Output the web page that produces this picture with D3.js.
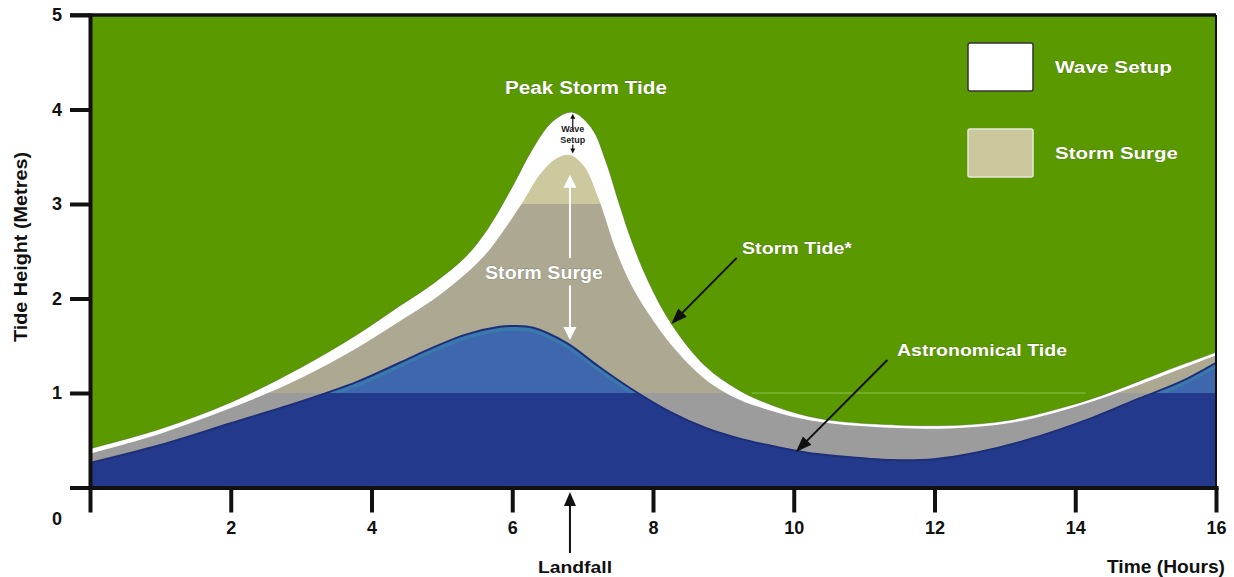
<!DOCTYPE html>
<html>
<head>
<meta charset="utf-8">
<script src="https://cdn.jsdelivr.net/npm/d3@7"></script>
<style>
  html, body { margin: 0; padding: 0; background: #ffffff; }
  svg { display: block; }
  text { font-family: "Liberation Sans", Arial, Helvetica, sans-serif; font-weight: bold; }
</style>
</head>
<body>
<svg id="chart" width="1234" height="577"></svg>
<script>
// ---------------- data ----------------
const xTicks = [0, 2, 4, 6, 8, 10, 12, 14, 16];
const yTicks = [0, 1, 2, 3, 4, 5];

// Storm tide (top of wave setup), [hours, metres]
const stormTide = [[0,0.41],[1,0.62],[2,0.90],[3,1.27],[3.8,1.62],[4.4,1.92],[4.9,2.17],
  [5.35,2.45],[5.6,2.68],[5.82,2.94],[6.05,3.25],[6.28,3.57],[6.57,3.87],[6.85,3.97],[7.13,3.80],
  [7.33,3.45],[7.52,3.0],[7.7,2.6],[7.94,2.17],[8.27,1.72],[8.75,1.28],[9.22,1.03],[9.69,0.87],
  [10.17,0.76],[10.64,0.70],[11.5,0.66],[12.2,0.655],[12.8,0.685],[13.3,0.745],[13.8,0.84],
  [14.4,0.98],[15.2,1.21],[16,1.43]];

// Storm surge top (tide + surge), [hours, metres]
const stormSurge = [[0,0.36],[1,0.57],[2,0.84],[3,1.16],[3.8,1.48],[4.4,1.76],[4.9,2.00],
  [5.35,2.27],[5.6,2.45],[5.82,2.66],[6.14,3.01],[6.4,3.32],[6.62,3.48],[6.81,3.52],[7.02,3.40],
  [7.23,3.05],[7.47,2.52],[7.7,2.13],[7.99,1.78],[8.27,1.50],[8.75,1.14],[9.22,0.93],[9.69,0.81],
  [10.17,0.72],[10.64,0.67],[11.5,0.63],[12.2,0.625],[12.8,0.655],[13.3,0.715],[13.8,0.81],
  [14.4,0.95],[15.2,1.17],[16,1.40]];

// Astronomical tide, [hours, metres]
const astroTide = [[0,0.26],[1,0.45],[2,0.68],[3,0.91],[3.8,1.12],[4.4,1.32],
  [4.87,1.48],[5.35,1.62],[5.82,1.70],[6.05,1.71],[6.3,1.69],[6.77,1.53],[7.23,1.28],[7.7,1.04],
  [8.27,0.79],[8.75,0.63],[9.22,0.52],[9.69,0.44],[10.17,0.37],[10.64,0.33],[11.4,0.29],
  [12.0,0.30],[12.6,0.37],[13.3,0.50],[14.25,0.74],[14.9,0.94],[15.5,1.12],[16,1.32]];

const bandLevels = [1, 3];   // colour change levels (metres)
const legendItems = ["Wave Setup", "Storm Surge"];

// ---------------- layout ----------------
const svg = d3.select("#chart");
const x = d3.scaleLinear().domain([0, 16]).range([90, 1216]);
const y = d3.scaleLinear().domain([0, 5]).range([487.5, 15]);

const C = {
  green: "#5b9900", white: "#ffffff", grey: "#9c9c9c", tan: "#aca892",
  lightTan: "#cdc99e", navy: "#233a8c", blue: "#3e67ad", edge: "#1e2f7a"
};

const defs = svg.append("defs");
defs.append("clipPath").attr("id", "plot")
  .append("rect").attr("x", x(0)).attr("y", y(5)).attr("width", x(16) - x(0)).attr("height", y(0) - y(5));
function band(id, lo, hi) {
  defs.append("clipPath").attr("id", id).append("rect")
    .attr("x", x(0)).attr("y", y(hi)).attr("width", x(16) - x(0)).attr("height", y(lo) - y(hi));
}
band("below1", 0, bandLevels[0]);
band("mid", bandLevels[0], bandLevels[1]);
band("above3", bandLevels[1], 5);
band("above1", bandLevels[0], 5);

const curve = d3.curveCatmullRom.alpha(0.5);
const area = d3.area().x(d => x(d[0])).y0(y(0)).y1(d => y(d[1])).curve(curve);
const line = d3.line().x(d => x(d[0])).y(d => y(d[1])).curve(curve);

const g = svg.append("g").attr("clip-path", "url(#plot)");
g.append("rect").attr("x", x(0)).attr("y", y(5)).attr("width", x(16) - x(0)).attr("height", y(0) - y(5)).attr("fill", C.green);

// faint level line in green
g.append("line").attr("x1", x(9.4)).attr("x2", x(14.15)).attr("y1", y(1)).attr("y2", y(1))
  .attr("stroke", "#8fbf55").attr("stroke-width", 1);

// wave setup (white) -> storm tide
g.append("path").datum(stormTide).attr("d", area).attr("fill", C.white);
g.append("path").datum(stormTide).attr("d", line).attr("fill", "none").attr("stroke", "#3a5a2a").attr("stroke-width", 0.6).attr("stroke-opacity", 0.6);

// storm surge bands
g.append("path").datum(stormSurge).attr("d", area).attr("fill", C.grey).attr("clip-path", "url(#below1)");
g.append("path").datum(stormSurge).attr("d", area).attr("fill", C.tan).attr("clip-path", "url(#mid)");
g.append("path").datum(stormSurge).attr("d", area).attr("fill", C.lightTan).attr("clip-path", "url(#above3)");

// astronomical tide
g.append("path").datum(astroTide).attr("d", area).attr("fill", C.navy);
const gb = g.append("g").attr("clip-path", "url(#above1)");
gb.append("path").datum(astroTide).attr("d", area).attr("fill", C.blue);
gb.append("path").datum(astroTide).attr("d", line).attr("fill", "none").attr("stroke", "#3a78ad")
  .attr("stroke-width", 4).attr("transform", "translate(0,3)");
g.append("path").datum(astroTide).attr("d", line).attr("fill", "none").attr("stroke", C.edge).attr("stroke-width", 2);

// ---------------- axes ----------------
const yAxis = d3.axisLeft(y).tickValues(yTicks).tickSizeInner(20).tickSizeOuter(0).tickPadding(8)
  .tickFormat(d3.format("d"));
const ya = svg.append("g").attr("transform", `translate(${x(0)},0)`).call(yAxis);
ya.select(".domain").attr("stroke", "#111").attr("stroke-width", 4);
ya.selectAll(".tick line").attr("stroke", "#111").attr("stroke-width", 4);
ya.selectAll(".tick text").attr("fill", "#111").style("font-size", "18px").style("font-weight", "bold")
  .attr("font-family", null);
ya.selectAll(".tick").filter(d => d === 0).select("text").attr("dy", "0.32em").attr("y", 31);

const xAxis = d3.axisBottom(x).tickValues(xTicks).tickSizeInner(25).tickSizeOuter(0).tickPadding(9)
  .tickFormat(d => d === 0 ? "" : d3.format("d")(d));
const xa = svg.append("g").attr("transform", `translate(0,${y(0)})`).call(xAxis);
xa.select(".domain").attr("stroke", "#111").attr("stroke-width", 4);
xa.selectAll(".tick line").attr("stroke", "#111").attr("stroke-width", 4);
xa.selectAll(".tick text").attr("fill", "#111").style("font-size", "18px").style("font-weight", "bold");
svg.selectAll(".domain").attr("stroke-linecap", "square");

// frame: top and right borders
svg.append("line").attr("x1", 70).attr("x2", x(16)).attr("y1", y(5)).attr("y2", y(5))
  .attr("stroke", "#111").attr("stroke-width", 3.5);
svg.append("line").attr("x1", x(16)).attr("x2", x(16)).attr("y1", y(5)).attr("y2", y(0))
  .attr("stroke", "#111").attr("stroke-width", 2);

// axis titles
svg.append("text").attr("transform", `translate(21,${(152 + 342) / 2}) rotate(-90)`)
  .attr("text-anchor", "middle").attr("dy", "0.35em").style("font-size", "18px").attr("fill", "#111")
  .attr("textLength", 190).attr("lengthAdjust", "spacingAndGlyphs").text("Tide Height (Metres)");
svg.append("text").attr("x", 1166).attr("y", 567).attr("text-anchor", "middle").attr("dy", "0.35em")
  .style("font-size", "18px").attr("fill", "#111").attr("textLength", 118).attr("lengthAdjust", "spacingAndGlyphs")
  .text("Time (Hours)");

// ---------------- annotations ----------------
function arrowHead(sel, x1, y1, x2, y2, len, wid, color) {
  const a = Math.atan2(y2 - y1, x2 - x1);
  const bx = x2 - len * Math.cos(a), by = y2 - len * Math.sin(a);
  const px = -Math.sin(a) * wid / 2, py = Math.cos(a) * wid / 2;
  sel.append("path").attr("d", `M${x2},${y2}L${bx + px},${by + py}L${bx - px},${by - py}Z`).attr("fill", color);
}
function arrow(x1, y1, x2, y2, color, w, len, wid) {
  const a = Math.atan2(y2 - y1, x2 - x1);
  svg.append("line").attr("x1", x1).attr("y1", y1)
    .attr("x2", x2 - (len * 0.8) * Math.cos(a)).attr("y2", y2 - (len * 0.8) * Math.sin(a))
    .attr("stroke", color).attr("stroke-width", w);
  arrowHead(svg, x1, y1, x2, y2, len, wid, color);
}

function label(txt, cx, cy, size, len, color) {
  svg.append("text").attr("x", cx).attr("y", cy).attr("text-anchor", "middle").attr("dy", "0.35em")
    .style("font-size", size + "px").attr("fill", color || "#fff")
    .attr("stroke", color ? "none" : "rgba(40,60,40,0.35)").attr("stroke-width", 0.8).attr("paint-order", "stroke")
    .attr("textLength", len).attr("lengthAdjust", "spacingAndGlyphs").text(txt);
}

// Peak Storm Tide
label("Peak Storm Tide", 586, 88, 18, 162);

// Wave setup mini-annotation
const wx = x(6.86);
arrow(wx, y(3.78), wx, y(3.955), "#111", 1.2, 5, 5);
arrow(wx, y(3.63), wx, y(3.535), "#111", 1.2, 5, 5);
label("Wave", wx, 129, 9, 23, "#222");
label("Setup", wx, 140, 9, 25, "#222");

// Storm surge double arrow
const sx = x(6.82);
arrow(sx, y(2.43), sx, y(3.31), "#fff", 2, 13, 13);
arrow(sx, y(2.14), sx, y(1.56), "#fff", 2, 13, 13);
label("Storm Surge", 544, 273, 18, 118);

// Storm Tide*
label("Storm Tide*", 797, 248, 17, 110);
arrow(x(9.19), y(2.43), x(8.26), y(1.73), "#111", 2, 16, 12);

// Astronomical Tide
label("Astronomical Tide", 982, 350, 17, 170);
arrow(x(11.33), y(1.35), x(10.03), y(0.376), "#111", 2, 16, 12);

// Landfall
arrow(x(6.82), 553, x(6.82), 492, "#111", 2, 14, 12);
label("Landfall", 575, 567, 17, 74, "#111");

// ---------------- legend ----------------
const legendFills = [C.white, "#cac79c"];
const legendStroke = ["#333", "#e8e8d8"];
legendItems.forEach((name, i) => {
  const top = i === 0 ? 43 : 129;
  svg.append("rect").attr("x", 968).attr("y", top).attr("width", 65).attr("height", 48).attr("rx", 2)
    .attr("fill", legendFills[i]).attr("stroke", legendStroke[i]).attr("stroke-width", 1.5);
  label(name, 1055 + (i === 0 ? 117 : 123) / 2, top + 24, 17, i === 0 ? 117 : 123);
});
</script>
</body>
</html>
